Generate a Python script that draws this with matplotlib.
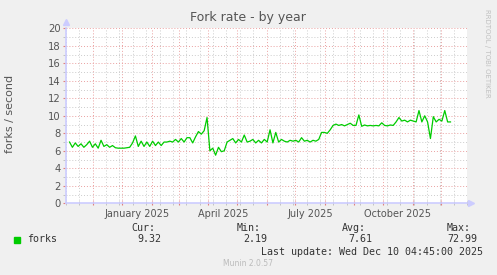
import numpy as np
import pandas as pd
import matplotlib
matplotlib.use('Agg')
import matplotlib.pyplot as plt
import matplotlib.dates as mdates
from matplotlib.patches import Rectangle

# fork rate, one reading every 3 days (forks / second)
dates = pd.date_range('2024-11-06 17:00', periods=134, freq='3D')
forks = [7.0, 6.4, 6.9, 6.5, 6.8, 6.4, 6.7, 7.1, 6.4, 6.8,
         6.3, 7.2, 6.5, 6.7, 6.4, 6.6, 6.35, 6.3, 6.3, 6.3,
         6.35, 6.4, 6.9, 7.7, 6.5, 7.1, 6.5, 7.0, 6.5, 7.1,
         6.6, 7.0, 6.6, 7.0, 7.0, 7.1, 7.0, 7.3, 7.0, 7.4,
         7.0, 7.5, 7.5, 6.9, 7.6, 8.2, 7.9, 8.3, 9.8, 6.0,
         6.3, 5.5, 6.4, 5.9, 6.0, 7.0, 7.2, 7.4, 6.9, 7.3,
         7.0, 7.8, 7.0, 7.1, 7.3, 6.9, 7.2, 6.9, 7.3, 7.0,
         8.4, 6.9, 8.1, 7.0, 7.3, 7.1, 7.0, 7.2, 7.1, 7.2,
         7.0, 7.5, 7.1, 7.2, 7.0, 7.2, 7.1, 7.3, 8.1, 8.1,
         8.0, 8.4, 8.9, 9.05, 8.9, 9.0, 8.85, 9.0, 9.15, 8.9,
         8.9, 10.1, 8.8, 8.95, 8.85, 8.9, 8.85, 8.9, 8.85, 9.2,
         8.9, 8.85, 8.95, 8.9, 9.3, 9.8, 9.4, 9.5, 9.3, 9.5,
         9.4, 9.3, 10.6, 9.3, 10.0, 9.3, 7.4, 9.9, 9.3, 9.6,
         9.4, 10.6, 9.3, 9.3]

month_labels = ['January 2025', 'April 2025', 'July 2025', 'October 2025']
label_months = ['2025-01-01', '2025-04-01', '2025-07-01', '2025-10-01']
legend_heads = ['Cur:', 'Min:', 'Avg:', 'Max:']
legend_vals = ['9.32', '2.19', '7.61', '72.99']

x_start = pd.Timestamp('2024-11-05 17:00')
x_end = pd.Timestamp('2025-12-11 17:00')

txt = '#555555'
fig = plt.figure(figsize=(4.97, 2.75), dpi=100)
fig.patch.set_facecolor('#f0f0f0')
ax = fig.add_axes([66/497, 1-203.3/275, 401/497, 175/275])
ax.set_facecolor('white')

ax.plot(dates, forks, color='#00cc00', lw=0.9, zorder=3)

ax.set_xlim(x_start, x_end)
ax.set_ylim(0, 20)

# grid: months red, fortnights grey
ax.xaxis.set_major_locator(mdates.MonthLocator())
minor_days = pd.date_range('2024-11-03', '2025-12-31', freq='14D')
ax.set_xticks(mdates.date2num(minor_days), minor=True)
ax.set_yticks(np.arange(0, 21, 2))
ax.set_yticks(np.arange(0, 21, 1), minor=True)
ax.set_xticklabels([])
ax.grid(which='major', color='#eaa0a0', linestyle=(0, (1, 2)), lw=0.7)
ax.grid(which='minor', color='#cccccc', linestyle=(0, (1, 2)), lw=0.7)
ax.set_axisbelow(True)

ax.tick_params(axis='x', which='major', length=3, direction='inout', color='#e08080')
ax.tick_params(axis='x', which='minor', length=3, direction='inout', color='#bbbbbb')
ax.tick_params(axis='y', which='major', length=2, color='#e08080', labelsize=7.2,
               labelcolor=txt, pad=2)
ax.tick_params(axis='y', which='minor', length=2, color='#bbbbbb')

for s in ['top', 'right']:
    ax.spines[s].set_visible(False)
for s in ['left', 'bottom']:
    ax.spines[s].set_color('#ccccff')
    ax.spines[s].set_linewidth(1.2)

# arrows on axis ends
ax.plot([0], [1.038], marker='^', color='#ccccff', ms=4, transform=ax.transAxes, clip_on=False)
ax.plot([1.01], [0], marker='>', color='#ccccff', ms=4, transform=ax.transAxes, clip_on=False)

for lab, m in zip(month_labels, label_months):
    mid = pd.Timestamp(m) + pd.Timedelta(days=15.5)
    ax.text(mdates.date2num(mid), -0.035, lab, transform=ax.get_xaxis_transform(),
            ha='center', va='top', fontsize=7, color=txt)

fig.text(248/497, 1-18/275, 'Fork rate - by year', ha='center', va='center',
         fontsize=9, color=txt)
fig.text(10/497, 1-114/275, 'forks / second', rotation=90, ha='center', va='center',
         fontsize=8, color=txt)
fig.text(487.5/497, 1-53/275, 'RRDTOOL / TOBI OETIKER', rotation=270, ha='center',
         va='center', fontsize=5, color='#c0c0c0')

mono = 'DejaVu Sans Mono'
fig.patches.append(Rectangle((14/497, 1-242.7/275), 6/497, 6/275,
                             transform=fig.transFigure, color='#00cc00'))
fig.text(27/497, 1-239.3/275, 'forks', family=mono, fontsize=7.2, color='#333333',
         va='center')
head_x = [131.7, 236.7, 342, 447]
val_x = [137.3, 243, 348, 447]
for h, hx, v, vx in zip(legend_heads, head_x, legend_vals, val_x):
    fig.text(hx/497, 1-227.7/275, h, family=mono, fontsize=7.2, color='#333333', va='center')
    fig.text(vx/497, 1-239.3/275, v, family=mono, fontsize=7.2, color='#333333', va='center')
fig.text(483/497, 1-251.7/275, 'Last update: Wed Dec 10 04:45:00 2025', family=mono,
         fontsize=7.2, color='#333333', va='center', ha='right')
fig.text(248/497, 1-264/275, 'Munin 2.0.57', fontsize=5.5, color='#bbbbbb',
         ha='center', va='center')

fig.savefig('out.png', dpi=100, facecolor=fig.get_facecolor())
